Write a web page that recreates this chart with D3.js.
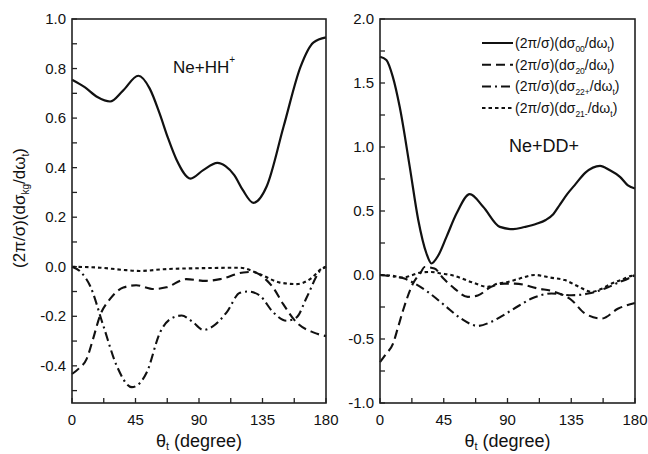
<!DOCTYPE html>
<html>
<head>
<meta charset="utf-8">
<script src="https://cdn.jsdelivr.net/npm/d3@7"></script>
<style>
  body { margin: 0; background: #fff; }
  svg { display: block; font-family: "Liberation Sans", Arial, sans-serif; }
</style>
</head>
<body>
<svg width="648" height="454"></svg>
<script>
// ---- data (theta in degrees, value) ----
var hh00 = [[0,0.755],[9,0.725],[18,0.685],[27,0.667],[36,0.71],[47,0.771],[55,0.72],[62,0.62],[68,0.52],[74,0.433],[84,0.356],[93,0.39],[103,0.419],[109,0.405],[115,0.37],[121,0.31],[128.5,0.258],[138,0.325],[150,0.567],[162,0.808],[171,0.905],[180,0.926]];
var hh20 = [[0,-0.433],[5,-0.41],[10.4,-0.372],[15,-0.29],[19.8,-0.198],[27,-0.13],[36.4,-0.084],[45.5,-0.075],[57.9,-0.09],[66.9,-0.083],[81,-0.05],[95,-0.057],[105,-0.05],[121.5,-0.023],[128.5,-0.021],[135,-0.04],[142.6,-0.085],[149.7,-0.151],[159.2,-0.225],[171,-0.265],[180,-0.28]];
var hh22 = [[0,0],[6,-0.02],[12.8,-0.077],[22.2,-0.238],[31.7,-0.4],[42.4,-0.486],[48,-0.47],[53,-0.426],[62.4,-0.265],[70,-0.21],[77.7,-0.197],[85,-0.22],[93,-0.255],[100,-0.24],[109.6,-0.184],[119,-0.105],[125,-0.1],[133.2,-0.117],[142.6,-0.184],[152,-0.218],[159.2,-0.204],[166.3,-0.124],[175.7,-0.017],[180,0]];
var hh21 = [[0,0],[20,-0.004],[35,-0.012],[48,-0.017],[65,-0.01],[90,-0.006],[119,-0.004],[133.2,-0.03],[147.4,-0.064],[159.2,-0.07],[168.7,-0.05],[178,-0.004],[180,0]];

var dd00 = [[0,1.705],[4.5,1.68],[9,1.55],[13.9,1.314],[21,0.845],[27,0.43],[32.8,0.168],[36.3,0.09],[41,0.15],[47,0.3],[54,0.48],[63.4,0.632],[72.8,0.533],[84.6,0.376],[94,0.358],[102,0.375],[110.5,0.4],[117,0.43],[122.3,0.475],[127,0.55],[132,0.63],[138,0.71],[145,0.8],[155.3,0.853],[162,0.82],[169.4,0.767],[175,0.7],[180,0.676]];
var dd20 = [[0,-0.68],[4,-0.62],[9.2,-0.536],[12.5,-0.418],[16.3,-0.275],[23.3,-0.067],[29,0.024],[31.4,0.063],[38.4,0.05],[45,-0.03],[52.6,-0.106],[62,-0.171],[69,-0.16],[78.4,-0.093],[87.9,-0.067],[95.2,-0.067],[111.7,-0.106],[123.5,-0.132],[135.3,-0.197],[144.7,-0.301],[156.5,-0.34],[168.2,-0.262],[180,-0.218]];
var dd22 = [[0,0],[8,-0.01],[17.2,-0.027],[25,-0.07],[33.7,-0.132],[45.5,-0.236],[57.2,-0.34],[69,-0.398],[78.4,-0.366],[89,-0.301],[98,-0.24],[107,-0.184],[121.1,-0.145],[135.3,-0.158],[147,-0.145],[158.8,-0.106],[168,-0.06],[175.3,-0.027],[180,0]];
var dd21 = [[0,0],[8,-0.005],[16,-0.02],[23,0.0],[29,0.02],[36,0.024],[43,0.012],[50.2,0],[64.3,-0.054],[76.1,-0.093],[83.2,-0.067],[90.2,-0.054],[98.7,-0.027],[109.3,0],[120,-0.02],[130.5,-0.04],[140,-0.09],[149.4,-0.132],[156,-0.11],[163.5,-0.067],[170,-0.04],[177.7,-0.007],[180,-0.005]];

var xTicks = [0, 45, 90, 135, 180];
var hhYTicks = [-0.4, -0.2, 0.0, 0.2, 0.4, 0.6, 0.8, 1.0];
var ddYTicks = [-1.0, -0.5, 0.0, 0.5, 1.0, 1.5, 2.0];

var seriesStyle = [
  { key: "00", dash: null },
  { key: "20", dash: "9,5" },
  { key: "22+", dash: "9,4,2,4" },
  { key: "21-", dash: "3.5,3" }
];

var svg = d3.select("svg");

function panel(opt) {
  var x = d3.scaleLinear().domain([0, 180]).range([opt.left, opt.right]);
  var y = d3.scaleLinear().domain(opt.yDomain).range([403, 19]);
  var g = svg.append("g");

  // minor ticks (inward)
  var minorX = d3.range(0, 181, 22.5);
  g.selectAll(".mx").data(minorX).enter().append("line")
    .attr("x1", x).attr("x2", x)
    .attr("y1", 403).attr("y2", 398)
    .attr("stroke", "#222").attr("stroke-width", 1.3);
  g.selectAll(".my").data(opt.yMinor).enter().append("line")
    .attr("x1", opt.left).attr("x2", opt.left + 5)
    .attr("y1", y).attr("y2", y)
    .attr("stroke", "#222").attr("stroke-width", 1.3);

  // tick labels
  g.selectAll(".xl").data(xTicks).enter().append("text")
    .attr("x", x).attr("y", 425)
    .attr("text-anchor", "middle")
    .attr("font-size", 15).attr("fill", "#111")
    .text(function (d) { return d; });
  g.selectAll(".yl").data(opt.yTicks).enter().append("text")
    .attr("x", opt.left - 6).attr("y", function (d) { return y(d) + 5; })
    .attr("text-anchor", "end")
    .attr("font-size", 15).attr("fill", "#111")
    .text(function (d) { return d3.format(".1f")(d).replace("−", "-"); });

  // curves
  var line = d3.line()
    .x(function (d) { return x(d[0]); })
    .y(function (d) { return y(d[1]); })
    .curve(d3.curveMonotoneX);
  opt.series.forEach(function (s, i) {
    g.append("path")
      .attr("d", line(s))
      .attr("fill", "none")
      .attr("stroke", "#111")
      .attr("stroke-width", i === 0 ? 2.2 : 2.1)
      .attr("stroke-dasharray", seriesStyle[i].dash);
  });

  // frame
  g.append("rect")
    .attr("x", opt.left).attr("y", 19)
    .attr("width", opt.right - opt.left).attr("height", 384)
    .attr("fill", "none").attr("stroke", "#222").attr("stroke-width", 1.6);

  // x title
  var t = g.append("text")
    .attr("x", (opt.left + opt.right) / 2).attr("y", 447)
    .attr("text-anchor", "middle")
    .attr("font-size", 18).attr("fill", "#111");
  t.append("tspan").text("θ");
  t.append("tspan").attr("font-size", 11).attr("dy", 3).text("t");
  t.append("tspan").attr("dy", -3).text(" (degree)");
  return { x: x, y: y, g: g };
}

var left = panel({
  left: 72, right: 326,
  yDomain: [-0.55, 1.0],
  yTicks: hhYTicks,
  yMinor: d3.range(-5, 11).map(function (d) { return d / 10; }),
  series: [hh00, hh20, hh22, hh21]
});

var right = panel({
  left: 380, right: 635,
  yDomain: [-1, 2],
  yTicks: ddYTicks,
  yMinor: d3.range(-4, 9).map(function (d) { return d / 4; }),
  series: [dd00, dd20, dd22, dd21]
});

// panel labels
var hl = svg.append("text").attr("x", 173).attr("y", 73)
  .attr("font-size", 17).attr("fill", "#111");
hl.append("tspan").text("Ne+HH");
hl.append("tspan").attr("font-size", 10).attr("dy", -10).text("+");

svg.append("text").attr("x", 544).attr("y", 152)
  .attr("text-anchor", "middle")
  .attr("font-size", 18).attr("fill", "#111")
  .text("Ne+DD+");

// y axis title
var yt = svg.append("text")
  .attr("transform", "translate(25,208) rotate(-90)")
  .attr("text-anchor", "middle")
  .attr("font-size", 17).attr("fill", "#111");
yt.append("tspan").text("(2π/σ)(dσ");
yt.append("tspan").attr("font-size", 10).attr("dy", 4).text("kg");
yt.append("tspan").attr("dy", -4).text("/dω");
yt.append("tspan").attr("font-size", 10).attr("dy", 4).text("t");
yt.append("tspan").attr("dy", -4).text(")");

// legend
var legendSubs = ["00", "20", "22+", "21-"];
var legend = svg.append("g");
legendSubs.forEach(function (sub, i) {
  var ly = 43 + i * 21.7;
  legend.append("line")
    .attr("x1", 482).attr("x2", 513)
    .attr("y1", ly).attr("y2", ly)
    .attr("stroke", "#111").attr("stroke-width", 2)
    .attr("stroke-dasharray", seriesStyle[i].dash);
  var lt = legend.append("text")
    .attr("x", 515).attr("y", ly + 5)
    .attr("font-size", 14).attr("fill", "#111");
  lt.append("tspan").text("(2π/σ)(dσ");
  lt.append("tspan").attr("font-size", 8.5).attr("dy", 4).text(sub);
  lt.append("tspan").attr("dy", -4).text("/dω");
  lt.append("tspan").attr("font-size", 8.5).attr("dy", 4).text("t");
  lt.append("tspan").attr("dy", -4).text(")");
});
</script>
</body>
</html>
